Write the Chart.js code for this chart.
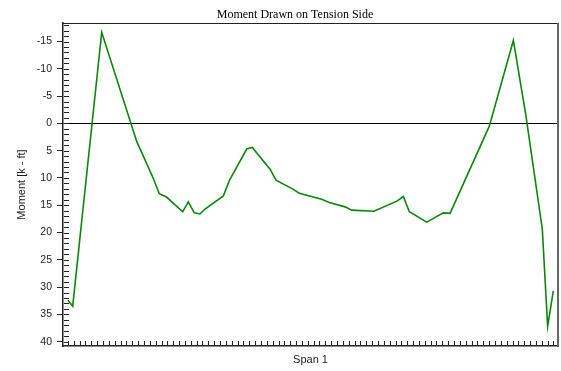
<!DOCTYPE html>
<html>
<head>
<meta charset="utf-8">
<script src="https://cdn.jsdelivr.net/npm/chart.js@4"></script>
<style>
  body { margin: 0; background: #fff; }
  #wrap { width: 561px; height: 371px; }
</style>
</head>
<body>
<div id="wrap"><canvas id="myChart" width="561" height="371"></canvas></div>
<script>
// DATA (x = position along the span, in tick steps; y = moment in k-ft)
const spanPos = [0, 0.82, 5.78, 11.76, 14.6, 15.62, 16.85, 19.62, 20.58, 21.6, 22.58, 23.44,
  26.56, 27.59, 30.56, 31.52, 34.55, 35.57, 38.53, 39.56, 43.38, 44.68, 47.37, 48.51,
  52.32, 56.31, 57.33, 58.36, 61.33, 64.17, 65.32, 72.03, 76.14, 78.26, 81.09, 82.0, 82.97];
const moment = [32.4, 33.5, -16.7, 3.3, 10.1, 12.9, 13.5, 16.2, 14.4, 16.4, 16.6, 15.7,
  13.3, 10.5, 4.7, 4.4, 8.4, 10.4, 12.1, 12.8, 13.9, 14.5, 15.3, 15.9,
  16.1, 14.2, 13.4, 16.2, 18.1, 16.4, 16.5, 0.5, -15.2, -1.6, 19.4, 37.2, 30.7];
const yTicks = [];
for (let v = -18; v <= 40; v++) yTicks.push(v);
const xTicks = [];
for (let v = 0; v <= 83; v++) xTicks.push(v);

const chartTitle = "Moment Drawn on Tension Side";

// frame, inside minor ticks and title
const framePlugin = {
  id: "frame",
  afterDraw(chart) {
    const ctx = chart.ctx;
    const a = chart.chartArea;
    const xs = chart.scales.x;
    const ys = chart.scales.y;
    ctx.save();
    ctx.strokeStyle = "#222";
    ctx.lineWidth = 1;
    ctx.beginPath();
    for (const t of ys.ticks) {
      const py = Math.round(ys.getPixelForValue(t.value)) + 0.5;
      ctx.moveTo(a.left + 1, py);
      ctx.lineTo(a.left + 6, py);
    }
    for (const t of xs.ticks) {
      const px = Math.round(xs.getPixelForValue(t.value)) + 0.5;
      ctx.moveTo(px, a.bottom - 1);
      ctx.lineTo(px, a.bottom - 5);
    }
    ctx.stroke();
    // top border
    ctx.beginPath();
    ctx.moveTo(a.left, a.top + 0.5);
    ctx.lineTo(a.right, a.top + 0.5);
    ctx.stroke();
    // right border
    ctx.strokeStyle = "#666";
    ctx.lineWidth = 2;
    ctx.beginPath();
    ctx.moveTo(a.right, a.top);
    ctx.lineTo(a.right, a.bottom + 1);
    ctx.stroke();
    // title
    ctx.fillStyle = "#000";
    ctx.font = "12px 'Liberation Serif'";
    ctx.textAlign = "center";
    ctx.textBaseline = "alphabetic";
    ctx.fillText(chartTitle, 295, 18);
    ctx.restore();
  }
};

const data = {
  datasets: [
    {
      label: "Moment",
      data: spanPos.map((x, i) => ({ x: x, y: moment[i] })),
      borderColor: "#0a870a",
      borderWidth: 1.6,
      pointRadius: 0,
      tension: 0,
      fill: false,
    },
  ],
};

const config = {
  type: "line",
  data: data,
  plugins: [framePlugin],
  options: {
    responsive: false,
    animation: false,
    layout: { padding: { top: 23, right: 3, left: 0, bottom: 0 } },
    plugins: {
      legend: { display: false },
      tooltip: { enabled: false },
    },
    scales: {
      x: {
        type: "linear",
        min: -0.84,
        max: 83.77,
        afterBuildTicks: (axis) => { axis.ticks = xTicks.map((v) => ({ value: v })); },
        afterFit: (axis) => { axis.height = 25; },
        grid: { display: false },
        border: { display: true, color: "#222", width: 1.5 },
        ticks: { display: false, autoSkip: false },
        title: {
          display: true,
          text: "Span 1",
          color: "#222",
          font: { family: "'Liberation Sans', Arial", size: 11 },
          padding: { top: 0, bottom: 4 },
        },
      },
      y: {
        type: "linear",
        reverse: true,
        min: -18.4,
        max: 40.8,
        afterBuildTicks: (axis) => { axis.ticks = yTicks.map((v) => ({ value: v })); },
        afterFit: (axis) => { axis.width = 63; },
        grid: {
          drawOnChartArea: true,
          color: (c) => (c.tick && c.tick.value === 0 ? "#000" : "rgba(0,0,0,0)"),
          tickColor: (c) => (c.tick && c.tick.value % 5 === 0 ? "#222" : "rgba(0,0,0,0)"),
          tickLength: 6,
          lineWidth: 1,
        },
        border: { display: true, color: "#222", width: 1.5 },
        ticks: {
          autoSkip: false,
          padding: 5,
          color: "#222",
          font: { family: "'Liberation Sans', Arial", size: 10.5 },
          callback: (v) => (v % 5 === 0 ? String(v) : ""),
        },
        title: {
          display: true,
          text: "Moment [k - ft]",
          color: "#222",
          font: { family: "'Liberation Sans', Arial", size: 11 },
          padding: { top: 15, bottom: 0 },
        },
      },
    },
  },
};

const myChart = new Chart(document.getElementById("myChart"), config);
</script>
</body>
</html>
